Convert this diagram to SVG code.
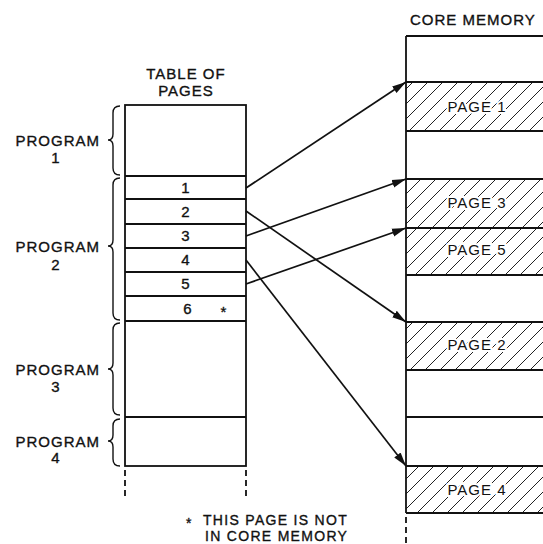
<svg xmlns="http://www.w3.org/2000/svg" width="543" height="544" viewBox="0 0 543 544">
<style>
text{font-family:"Liberation Sans",Arial,sans-serif;font-size:15px;fill:#111;stroke:#111;stroke-width:0.35px;letter-spacing:1px}
.c{text-anchor:middle}
.r{text-anchor:end}
.fn{font-size:14px;letter-spacing:1.3px}
.ln{stroke:#111;stroke-width:1.8;fill:none}
.br{stroke:#111;stroke-width:1.4;fill:none}
.dash{stroke:#111;stroke-width:1.8;stroke-dasharray:6,4;fill:none}
.arr{stroke:#111;stroke-width:1.7;fill:none;marker-end:url(#ah)}
.hatch{fill:url(#hp);stroke:none}
.pl{paint-order:stroke;stroke:#fff;stroke-width:4px}
</style>
<defs>
<pattern id="hp" patternUnits="userSpaceOnUse" width="15" height="15">
<path d="M0,15 L15,0 M-4,4 L4,-4 M11,19 L19,11" stroke="#222" stroke-width="1"/>
</pattern>
<marker id="ah" markerUnits="userSpaceOnUse" markerWidth="15" markerHeight="10" refX="14" refY="5" orient="auto">
<path d="M0,1 L14,5 L0,9 Z" fill="#111"/>
</marker>
</defs>
<rect width="543" height="544" fill="#fff"/>

<g id="title-table">
<text class="c" x="186" y="79">TABLE OF</text>
<text class="c" x="186" y="96">PAGES</text>
</g>
<g id="title-core">
<text x="410" y="25">CORE MEMORY</text>
</g>

<g id="table">
<rect class="ln" x="125" y="105" width="121" height="361"/>
<path class="ln" d="M125,176H246M125,199H246M125,224H246M125,248H246M125,272H246M125,296H246M125,321H246M125,417H246"/>
<path class="dash" d="M125,470V498M246,470V498"/>
</g>
<g id="row1"><text class="c" x="186" y="193">1</text></g>
<g id="row2"><text class="c" x="186" y="217">2</text></g>
<g id="row3"><text class="c" x="186" y="241">3</text></g>
<g id="row4"><text class="c" x="186" y="265">4</text></g>
<g id="row5"><text class="c" x="186" y="289">5</text></g>
<g id="row6"><text class="c" x="188" y="314">6</text><text class="c" x="224" y="317">*</text></g>

<g id="program1">
<path class="br" d="M120,106 Q113,106 113,113 L113,134 Q113,140 108,140 Q113,140 113,146 L113,168 Q113,175 120,175"/>
<text class="r" x="100" y="146">PROGRAM</text>
<text class="c" x="56" y="163">1</text>
</g>
<g id="program2">
<path class="br" d="M120,178 Q113,178 113,185 L113,240 Q113,246 108,246 Q113,246 113,252 L113,313 Q113,320 120,320"/>
<text class="r" x="100" y="252">PROGRAM</text>
<text class="c" x="56" y="270">2</text>
</g>
<g id="program3">
<path class="br" d="M120,323 Q113,323 113,330 L113,363 Q113,369 108,369 Q113,369 113,375 L113,408 Q113,415 120,415"/>
<text class="r" x="100" y="375">PROGRAM</text>
<text class="c" x="56" y="392">3</text>
</g>
<g id="program4">
<path class="br" d="M120,419 Q113,419 113,426 L113,435 Q113,441 108,441 Q113,441 113,447 L113,459 Q113,466 120,466"/>
<text class="r" x="100" y="447">PROGRAM</text>
<text class="c" x="56" y="463">4</text>
</g>

<g id="core">
<rect class="hatch" x="406" y="82" width="137" height="49"/>
<rect class="hatch" x="406" y="179" width="137" height="96"/>
<rect class="hatch" x="406" y="322" width="137" height="48"/>
<rect class="hatch" x="406" y="466" width="137" height="47"/>
<path class="ln" d="M406,36V513M406,36H543M406,82H543M406,131H543M406,179H543M406,228H543M406,275H543M406,322H543M406,370H543M406,417H543M406,466H543M406,513H543"/>
<path class="dash" d="M406,517V544"/>
</g>
<g id="page1"><text class="c pl" x="477" y="112">PAGE 1</text></g>
<g id="page3"><text class="c pl" x="477" y="208">PAGE 3</text></g>
<g id="page5"><text class="c pl" x="477" y="255">PAGE 5</text></g>
<g id="page2"><text class="c pl" x="477" y="350">PAGE 2</text></g>
<g id="page4"><text class="c pl" x="477" y="495">PAGE 4</text></g>

<g id="connectors">
<path class="arr" d="M246,188 L406,82"/>
<path class="arr" d="M246,211 L406,322"/>
<path class="arr" d="M246,236 L406,179"/>
<path class="arr" d="M246,260 L406,466"/>
<path class="arr" d="M246,284 L406,228"/>
</g>

<g id="footnote">
<text class="fn" x="186" y="528">*</text>
<text class="fn" x="203" y="525">THIS PAGE IS NOT</text>
<text class="fn" x="205" y="541">IN CORE MEMORY</text>
</g>
</svg>
